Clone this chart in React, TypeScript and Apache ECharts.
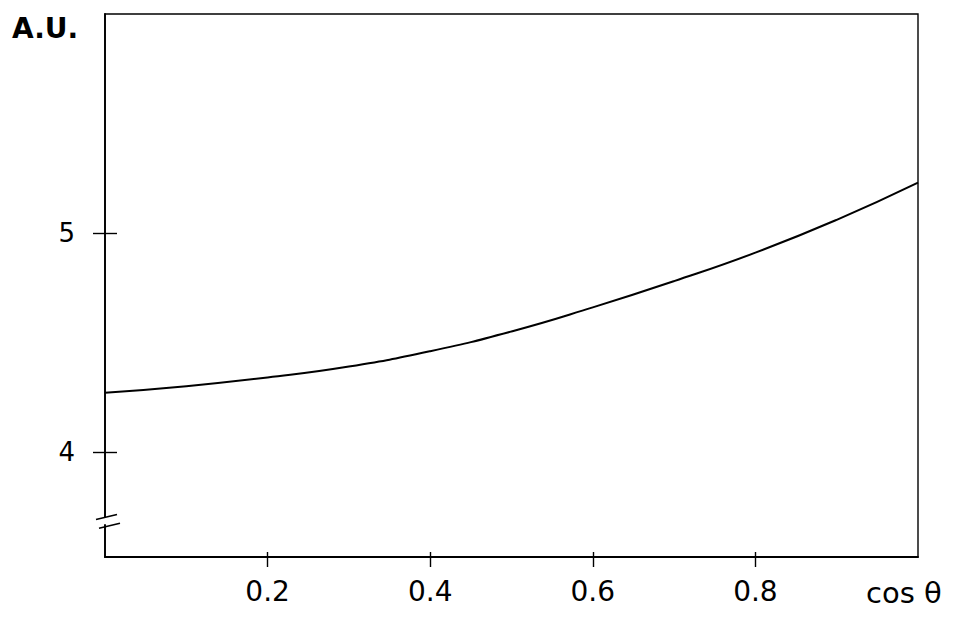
import React, { useEffect, useRef } from "react";
import * as echarts from "echarts";

const cosTheta = [0, 0.1, 0.2, 0.3, 0.4, 0.5, 0.6, 0.7, 0.8, 0.9, 1.0];
const intensity = [4.27, 4.30, 4.34, 4.39, 4.46, 4.55, 4.66, 4.78, 4.91, 5.06, 5.23];
const xTickValues = [0.2, 0.4, 0.6, 0.8];
const yTickValues = [4, 5];
const xMin = 0;
const xMax = 1;
const yMin = 3.52;
const yMax = 6.0;
const breakValues = [3.705, 3.665];
const yAxisTitle = "A.U.";
const xAxisTitle = "cos θ";

const FONT = "DejaVu Sans";

export default function App() {
  const ref = useRef<HTMLDivElement>(null);
  useEffect(() => {
    if (!ref.current) return;
    const chart = echarts.init(ref.current, undefined, { renderer: "svg" });
    const data = cosTheta.map((x, i) => [x, intensity[i]]);
    const axisLine = { show: true, lineStyle: { color: "#000", width: 1.8 } };
    chart.setOption({
      animation: false,
      backgroundColor: "#fff",
      grid: {
        left: 105,
        right: 57,
        top: 14,
        bottom: 66,
        show: true,
        borderColor: "#000",
        borderWidth: 1.4,
      },
      xAxis: [
        {
          type: "value",
          min: xMin,
          max: xMax,
          interval: 0.2,
          axisLine,
          splitLine: { show: false },
          axisTick: { show: true, length: 10, customValues: xTickValues, lineStyle: { color: "#000", width: 1.4 } },
          axisLabel: {
            show: true,
            customValues: xTickValues,
            margin: 20,
            color: "#000",
            fontSize: 28,
            fontFamily: FONT,
            formatter: (v: number) => v.toFixed(1),
          },
        },
        {
          type: "value",
          min: xMin,
          max: xMax,
          position: "bottom",
          axisLine: { show: false },
          splitLine: { show: false },
          axisTick: { show: true, inside: true, length: 5, customValues: xTickValues, lineStyle: { color: "#000", width: 1.4 } },
          axisLabel: { show: false },
        },
      ],
      yAxis: [
        {
          type: "value",
          min: yMin,
          max: yMax,
          axisLine,
          splitLine: { show: false },
          axisTick: { show: true, length: 12, customValues: yTickValues, lineStyle: { color: "#000", width: 1.4 } },
          axisLabel: {
            show: true,
            customValues: yTickValues,
            margin: 30,
            color: "#000",
            fontSize: 26,
            fontFamily: FONT,
          },
        },
        {
          type: "value",
          min: yMin,
          max: yMax,
          position: "left",
          axisLine: { show: false },
          splitLine: { show: false },
          axisTick: { show: true, inside: true, length: 12, customValues: yTickValues, lineStyle: { color: "#000", width: 1.4 } },
          axisLabel: { show: false },
        },
      ],
      series: [
        {
          type: "line",
          data,
          smooth: true,
          showSymbol: false,
          symbol: "none",
          lineStyle: { color: "#000", width: 2 },
          xAxisIndex: 0,
          yAxisIndex: 0,
        },
      ],
    });

    const [ax, b1] = chart.convertToPixel({ xAxisIndex: 0, yAxisIndex: 0 }, [xMin, breakValues[0]]) as number[];
    const [, b2] = chart.convertToPixel({ xAxisIndex: 0, yAxisIndex: 0 }, [xMin, breakValues[1]]) as number[];
    const [, yTop] = chart.convertToPixel({ xAxisIndex: 0, yAxisIndex: 0 }, [xMin, yMax]) as number[];
    const [xEnd, yBottom] = chart.convertToPixel({ xAxisIndex: 0, yAxisIndex: 0 }, [xMax, yMin]) as number[];

    chart.setOption({
      graphic: [
        {
          type: "rect",
          z: 100,
          shape: { x: ax - 4, y: b1 + 1, width: 8, height: b2 - b1 - 2 },
          style: { fill: "#fff" },
        },
        {
          type: "line",
          z: 101,
          shape: { x1: ax - 9, y1: b1 + 3, x2: ax + 12, y2: b1 - 2 },
          style: { stroke: "#000", lineWidth: 1.6 },
        },
        {
          type: "line",
          z: 101,
          shape: { x1: ax - 6, y1: b2 + 3, x2: ax + 15, y2: b2 - 2 },
          style: { stroke: "#000", lineWidth: 1.6 },
        },
        {
          type: "text",
          z: 101,
          x: 12,
          y: yTop,
          style: {
            text: yAxisTitle,
            fill: "#000",
            fontSize: 28,
            fontFamily: FONT,
            fontWeight: "bold",
          },
        },
        {
          type: "text",
          z: 101,
          x: xEnd - 52,
          y: yBottom + 21,
          style: {
            text: xAxisTitle,
            fill: "#000",
            fontSize: 29,
            fontFamily: FONT,
          },
        },
      ],
    });

    return () => chart.dispose();
  }, []);
  return (
    <div
      ref={ref}
      style={{ position: "absolute", left: 0, top: 0, width: 975, height: 623 }}
    />
  );
}
